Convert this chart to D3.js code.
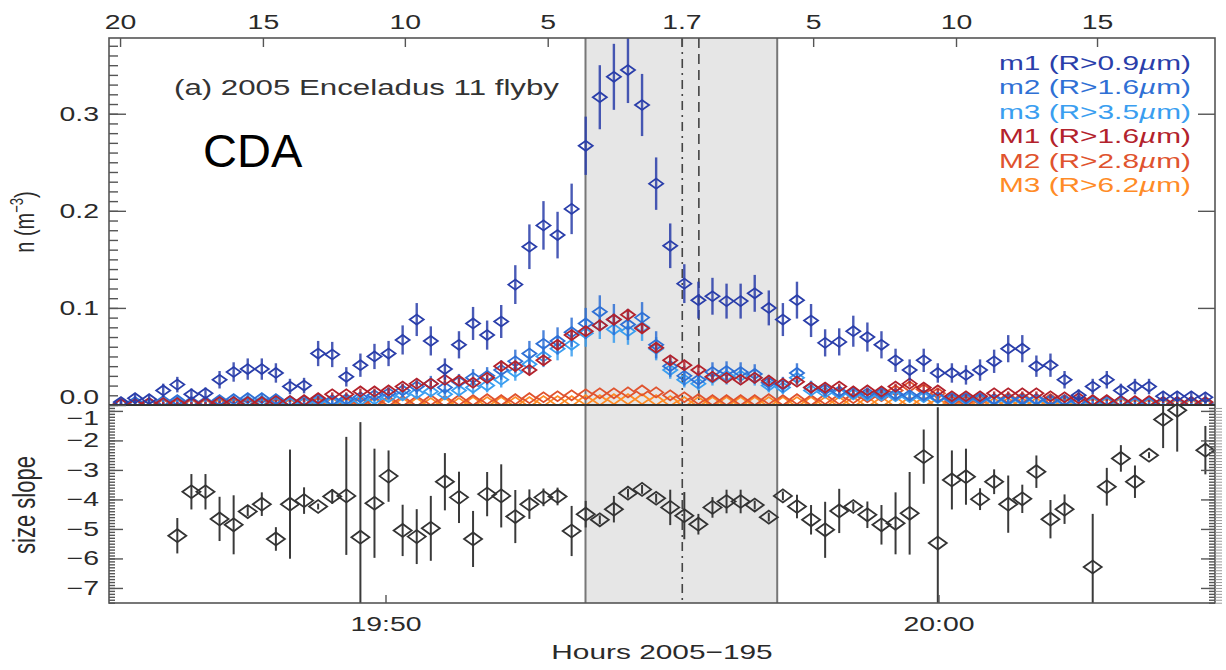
<!DOCTYPE html>
<html>
<head>
<meta charset="utf-8">
<script src="https://cdn.jsdelivr.net/npm/d3@7"></script>
<style>
  body { margin: 0; background: #fff; }
  svg { display: block; font-family: "Liberation Sans", Arial, sans-serif; }
</style>
</head>
<body>
<svg width="1226" height="670"></svg>
<script>
// CDA samples, one every ~15.3 s from 19:45:13
const sampleStart = "19:45:13";
const sampleStepSec = 15.28;

// number densities n (m^-3) per size channel
const m1 = [0.003,0.007,0.006,0.015,0.021,0.011,0.012,0.026,0.034,0.037,
            0.037,0.033,0.019,0.020,0.053,0.052,0.029,0.041,0.050,0.053,
            0.067,0.088,0.066,0.037,0.062,0.084,0.072,0.086,0.124,0.163,
            0.185,0.175,0.202,0.267,0.317,0.338,0.345,0.309,0.228,0.164,
            0.125,0.108,0.112,0.107,0.107,0.115,0.100,0.088,0.108,0.087,
            0.064,0.065,0.076,0.070,0.062,0.046,0.036,0.046,0.033,0.033,
            0.031,0.036,0.045,0.058,0.058,0.040,0.041,0.026,0.010,0.019,
            0.026,0.015,0.019,0.019,0.009,0.009,0.009,0.008];
const m1Err = [.003,.005,.005,.007,.008,.006,.006,.009,.010,.011,
               .011,.010,.008,.008,.013,.013,.010,.012,.013,.013,
               .015,.017,.015,.011,.014,.017,.015,.017,.020,.023,
               .025,.024,.026,.030,.033,.034,.034,.032,.027,.023,
               .020,.019,.019,.018,.018,.019,.018,.017,.019,.017,
               .014,.014,.016,.015,.014,.012,.011,.012,.010,.010,
               .010,.011,.012,.014,.014,.011,.012,.009,.006,.008,
               .009,.007,.008,.008,.005,.005,.005,.005];
const m2 = [.002,.003,.002,.004,.005,.003,.003,.005,.006,.007,
            .007,.006,.004,.004,.006,.005,.006,.008,.010,.012,
            .015,.019,.022,.018,.024,.028,.030,.036,.045,.053,
            .063,.066,.075,.084,.096,.088,.083,.090,.062,.040,
            .030,.026,.034,.035,.034,.032,.023,.021,.033,.018,
            .016,.014,.013,.012,.012,.011,.010,.010,.008,.007,
            .007,.007,.006,.006,.006,.006,.005,.005,.004,.004,
            .004,.004,.003,.003,.003,.003,.003,.002];
const m2Err = [.002,.003,.002,.003,.004,.003,.003,.004,.004,.005,
               .005,.004,.003,.003,.004,.004,.004,.005,.005,.006,
               .007,.008,.008,.007,.008,.009,.009,.010,.012,.013,
               .014,.014,.015,.016,.017,.016,.016,.016,.014,.011,
               .010,.009,.010,.010,.010,.010,.008,.008,.010,.007,
               .007,.006,.006,.006,.006,.006,.005,.005,.005,.005,
               .005,.005,.004,.004,.004,.004,.004,.004,.003,.003,
               .003,.003,.003,.003,.003,.003,.003,.002];
const m3 = [.001,.002,.001,.002,.003,.002,.002,.003,.003,.004,
            .004,.003,.002,.002,.004,.003,.004,.005,.006,.008,
            .010,.012,.014,.011,.015,.018,.020,.026,.034,.042,
            .050,.058,.062,.074,.082,.078,.076,.080,.058,.036,
            .026,.022,.028,.030,.030,.028,.020,.018,.028,.015,
            .013,.012,.011,.010,.010,.009,.008,.008,.007,.006,
            .006,.006,.005,.005,.005,.005,.004,.004,.003,.003,
            .003,.003,.002,.002,.002,.002,.002,.002];
const m3Err = [.002,.002,.002,.002,.003,.002,.002,.003,.003,.003,
               .003,.003,.002,.002,.003,.003,.003,.004,.004,.004,
               .005,.005,.006,.005,.006,.007,.007,.008,.009,.010,
               .011,.012,.012,.014,.014,.014,.014,.014,.012,.009,
               .008,.007,.008,.009,.009,.008,.007,.007,.008,.006,
               .006,.005,.005,.005,.005,.005,.004,.004,.004,.004,
               .004,.004,.004,.004,.004,.004,.003,.003,.003,.003,
               .003,.003,.002,.002,.002,.002,.002,.002];
const M1 = [.001,.001,.002,.002,.002,.002,.002,.003,.003,.003,
            .003,.004,.004,.005,.007,.011,.011,.014,.014,.015,
            .019,.022,.022,.026,.025,.023,.028,.040,.040,.036,
            .046,.062,.072,.076,.082,.088,.093,.079,.059,.046,
            .041,.036,.029,.028,.026,.028,.025,.022,.024,.018,
            .018,.019,.014,.015,.014,.019,.022,.018,.015,.009,
            .009,.009,.012,.012,.012,.012,.009,.008,.007,.005,
            .005,.004,.004,.004,.003,.003,.003,.003];
const M1Err = [.001,.001,.001,.001,.001,.001,.001,.001,.001,.001,
               .001,.001,.001,.002,.002,.002,.002,.003,.003,.003,
               .003,.003,.003,.003,.003,.003,.003,.004,.004,.004,
               .004,.005,.005,.005,.006,.006,.006,.005,.005,.004,
               .004,.004,.003,.003,.003,.003,.003,.003,.003,.003,
               .003,.003,.002,.002,.002,.003,.003,.003,.002,.002,
               .002,.002,.002,.002,.002,.002,.002,.002,.002,.001,
               .001,.001,.001,.001,.001,.001,.001,.001];
const M2 = [.001,.001,.001,.001,.001,.001,.001,.002,.002,.002,
            .002,.002,.002,.002,.003,.003,.003,.003,.003,.004,
            .004,.004,.005,.004,.005,.005,.006,.005,.006,.007,
            .008,.009,.010,.011,.012,.012,.013,.015,.013,.010,
            .008,.006,.005,.005,.005,.005,.006,.005,.006,.005,
            .006,.006,.007,.008,.009,.015,.019,.016,.012,.004,
            .004,.005,.006,.007,.007,.006,.006,.005,.004,.004,
            .004,.003,.003,.003,.003,.002,.002,.002];
const M3 = [.001,.001,.001,.001,.001,.001,.001,.001,.001,.001,
            .001,.001,.001,.002,.002,.002,.002,.002,.002,.002,
            .002,.002,.002,.002,.002,.003,.003,.003,.003,.003,
            .004,.004,.004,.005,.005,.006,.006,.006,.005,.004,
            .003,.003,.003,.003,.003,.003,.003,.003,.003,.003,
            .003,.003,.003,.003,.003,.003,.003,.003,.002,.002,
            .002,.002,.002,.002,.002,.002,.002,.002,.002,.002,
            .002,.002,.001,.001,.001,.001,.001,.001];

// size distribution slope (null = no fit)
const slope = [null,null,null,null,-5.23,-3.74,-3.74,-4.66,-4.86,-4.41,
               -4.16,-5.34,-4.16,-4.04,-4.24,-3.90,-3.88,-5.28,-4.13,-3.21,
               -5.05,-5.26,-4.98,-3.40,-3.93,-5.34,-3.82,-3.88,-4.58,-4.16,
               -3.93,-3.90,-5.07,-4.50,-4.69,-4.33,-3.79,-3.66,-3.96,-4.27,
               -4.55,-4.84,-4.27,-4.07,-4.07,-4.19,-4.60,-3.88,-4.24,-4.69,
               -5.03,-4.39,-4.24,-4.52,-4.86,-4.81,-4.47,-2.55,-5.48,-3.34,
               -3.23,-3.99,-3.40,-4.16,-3.98,-3.06,-4.67,-4.33,null,-6.29,
               -3.57,-2.61,-3.40,-2.50,-1.29,-0.98,null,-2.33];
const slopeErr = [0,0,0,0,.60,.60,.60,.75,1.0,.15,
                  .40,.40,1.85,.45,.10,.25,2.0,3.9,1.85,.87,
                  .87,.93,1.1,.97,.87,.95,.75,1.07,.90,.50,
                  .30,.30,.85,.45,.15,.45,.15,.15,.15,.60,
                  .80,.35,.35,.40,.40,.15,.15,.15,.40,.50,
                  .95,.75,.15,.45,.67,1.05,1.4,.92,4.6,1.0,
                  .95,.37,.42,.97,.48,.55,.65,.50,0,1.8,
                  .64,.45,.55,.10,.97,1.4,0,.82];

const seriesNames = ["m1", "m2", "m3", "M1", "M2", "M3"];
const seriesRadius = ["0.9", "1.6", "3.5", "1.6", "2.8", "6.2"];
const seriesColors = ["#2a3eaa", "#2f70d5", "#3a9ef0", "#b3222c", "#e0532e", "#ff8b26"];

// top axis: distance from Enceladus (R_E) at given times
const topTickLabels = ["20", "15", "10", "5", "1.7", "5", "10", "15"];
const topTickTimes = ["19:45:12", "19:47:47", "19:50:21", "19:52:56", "19:55:21", "19:57:44", "20:00:19", "20:02:52"];
const bottomTickTimes = ["19:50:00", "20:00:00"];
const shadeTimes = ["19:53:37", "19:57:05"];
const closestTime = "19:55:22";
const dashedTime = "19:55:40";

const parse = d3.timeParse("%H:%M:%S");
const sx = 1.42; // the figure is stretched horizontally

const svg = d3.select("svg");
const L = 109, R = 1215, T = 38, M = 405, B = 603;

const x = d3.scaleTime().domain([parse("19:45:00"), parse("20:05:00")]).range([L, R]);
const yTop = d3.scaleLinear().domain([0, 0.378]).range([M, T]);
const yBot = d3.scaleLinear().domain([-7.51, -0.80]).range([B, M]);

const t0 = parse(sampleStart);
const times = m1.map((_, i) => new Date(+t0 + i * sampleStepSec * 1000));

function stretch(sel) {
    sel.each(function() {
        const w = this.getComputedTextLength();
        d3.select(this).attr("textLength", w * sx).attr("lengthAdjust", "spacingAndGlyphs");
    });
}
function diamond(cx, cy, w, h) {
    return `M${cx - w},${cy}L${cx},${cy - h}L${cx + w},${cy}L${cx},${cy + h}Z`;
}

const defs = svg.append("defs");
defs.append("clipPath").attr("id", "clipTop")
    .append("rect").attr("x", L).attr("y", T).attr("width", R - L).attr("height", M - T);
defs.append("clipPath").attr("id", "clipBot")
    .append("rect").attr("x", L).attr("y", M).attr("width", R - L).attr("height", B - M);

// shaded interval and event lines
const xs0 = x(parse(shadeTimes[0])), xs1 = x(parse(shadeTimes[1]));
svg.append("rect").attr("x", xs0).attr("y", T).attr("width", xs1 - xs0).attr("height", B - T)
    .attr("fill", "#e6e6e6");
shadeTimes.forEach(t => {
    svg.append("line").attr("x1", x(parse(t))).attr("x2", x(parse(t)))
        .attr("y1", T).attr("y2", B).attr("stroke", "#777").attr("stroke-width", 2);
});
svg.append("line").attr("x1", x(parse(closestTime))).attr("x2", x(parse(closestTime)))
    .attr("y1", T).attr("y2", B).attr("stroke", "#444").attr("stroke-width", 1.6)
    .attr("stroke-dasharray", "9,5,2,5");
svg.append("line").attr("x1", x(parse(dashedTime))).attr("x2", x(parse(dashedTime)))
    .attr("y1", T).attr("y2", M).attr("stroke", "#444").attr("stroke-width", 1.6)
    .attr("stroke-dasharray", "10,6");

// upper panel series
const seriesValues = [m1, m2, m3, M1, M2, M3];
const seriesErrs = [m1Err, m2Err, m3Err, M1Err, null, null];
const series = seriesNames.map((name, k) => ({
    name, radius: seriesRadius[k], color: seriesColors[k],
    values: seriesValues[k], err: seriesErrs[k]
}));
const drawOrder = [5, 4, 2, 1, 3, 0];

const gTop = svg.append("g").attr("clip-path", "url(#clipTop)");
drawOrder.forEach(k => {
    const s = series[k];
    const g = gTop.append("g");
    if (s.err) {
        g.selectAll("line").data(s.values).enter().append("line")
            .attr("x1", (d, i) => x(times[i])).attr("x2", (d, i) => x(times[i]))
            .attr("y1", (d, i) => yTop(d + s.err[i])).attr("y2", (d, i) => yTop(d - s.err[i]))
            .attr("stroke", s.color).attr("stroke-width", 2.4).attr("opacity", 0.85);
    }
    g.selectAll("path").data(s.values).enter().append("path")
        .attr("d", (d, i) => diamond(x(times[i]), yTop(d), 7, 5))
        .attr("fill", "none").attr("stroke", s.color).attr("stroke-width", 1.8);
});

// lower panel: size slope
const slopePts = slope.map((v, i) => ({ t: times[i], v, e: slopeErr[i] })).filter(d => d.v !== null);
svg.append("g").attr("clip-path", "url(#clipBot)")
    .selectAll("line").data(slopePts).enter().append("line")
    .attr("x1", d => x(d.t)).attr("x2", d => x(d.t))
    .attr("y1", d => yBot(d.v + d.e)).attr("y2", d => yBot(d.v - d.e))
    .attr("stroke", "#3a3a3a").attr("stroke-width", 2);
svg.append("g").selectAll("path").data(slopePts).enter().append("path")
    .attr("d", d => diamond(x(d.t), yBot(d.v), 9, 6.5))
    .attr("fill", "none").attr("stroke", "#333").attr("stroke-width", 1.8);

// frame
svg.append("rect").attr("x", L).attr("y", T).attr("width", R - L).attr("height", B - T)
    .attr("fill", "none").attr("stroke", "#555").attr("stroke-width", 1.6);
svg.append("line").attr("x1", L).attr("x2", R).attr("y1", M).attr("y2", M)
    .attr("stroke", "#333").attr("stroke-width", 2);

// axes
function styleAxis(g, size) {
    g.select(".domain").remove();
    g.selectAll(".tick line").attr("stroke", "#555").attr("stroke-width", 1.4);
    g.selectAll("text").attr("font-size", size || 20).attr("fill", "#2a2a2a")
        .attr("font-family", "Liberation Sans, Arial, sans-serif");
}
const axes = svg.append("g");
// upper panel y
axes.append("g").attr("transform", `translate(${L},0)`)
    .call(d3.axisLeft(yTop).tickValues(d3.range(0, 0.375, 0.01)).tickSize(-9).tickFormat(""))
    .call(g => styleAxis(g));
axes.append("g").attr("transform", `translate(${L},0)`)
    .call(d3.axisLeft(yTop).tickValues([0, 0.1, 0.2, 0.3]).tickSize(-17).tickPadding(10)
        .tickFormat(d3.format(".1f")))
    .call(g => styleAxis(g))
    .call(g => g.selectAll(".tick").filter(d => d === 0).select("text").attr("y", -8));
axes.append("g").attr("transform", `translate(${R},0)`)
    .call(d3.axisRight(yTop).tickValues([0.1, 0.2, 0.3]).tickSize(-17).tickFormat(""))
    .call(g => styleAxis(g));
// lower panel y
const slopeMinor = d3.range(-7.5, -0.8, 0.1);
axes.append("g").attr("transform", `translate(${L},0)`)
    .call(d3.axisLeft(yBot).tickValues(slopeMinor).tickSize(-6).tickFormat(""))
    .call(g => styleAxis(g));
axes.append("g").attr("transform", `translate(${L},0)`)
    .call(d3.axisLeft(yBot).tickValues(d3.range(-7, 0, 1)).tickSize(-14).tickPadding(10)
        .tickFormat(d3.format("d")))
    .call(g => styleAxis(g))
    .call(g => g.selectAll(".tick").filter(d => d === -1).select("text").attr("y", 7));
axes.append("g").attr("transform", `translate(${R},0)`)
    .call(d3.axisRight(yBot).tickValues(slopeMinor).tickSize(-6).tickFormat(""))
    .call(g => styleAxis(g));
axes.append("g").attr("transform", `translate(${R},0)`)
    .call(d3.axisRight(yBot).tickValues(slopeMinor).tickSize(7).tickFormat(""))
    .call(g => styleAxis(g))
    .call(g => g.selectAll(".tick line").attr("stroke", "#999").attr("stroke-width", 1));
axes.append("g").attr("transform", `translate(${R},0)`)
    .call(d3.axisRight(yBot).tickValues(d3.range(-7, 0, 1)).tickSize(-14).tickFormat(""))
    .call(g => styleAxis(g));
// top: distance axis
axes.append("g").attr("transform", `translate(0,${T})`)
    .call(d3.axisTop(x).tickValues(topTickTimes.map(parse)).tickSize(-9).tickPadding(9)
        .tickFormat((d, i) => topTickLabels[i]))
    .call(g => styleAxis(g));
// bottom: time axis
axes.append("g").attr("transform", `translate(0,${B})`)
    .call(d3.axisBottom(x).tickValues(bottomTickTimes.map(parse)).tickSize(-8).tickPadding(14)
        .tickFormat(d3.timeFormat("%H:%M")))
    .call(g => styleAxis(g));
axes.selectAll("text").call(stretch);

// axis titles
const xt = svg.append("text").attr("x", 662).attr("y", 659).attr("text-anchor", "middle")
    .attr("font-size", 21).attr("fill", "#2a2a2a").text("Hours 2005\u2212195");
stretch(xt);

const yl1 = svg.append("text").attr("transform", `translate(34,222) scale(${sx},1) rotate(-90)`)
    .attr("text-anchor", "middle").attr("font-size", 20).attr("fill", "#2a2a2a");
yl1.append("tspan").text("n (m");
yl1.append("tspan").attr("font-size", 13).attr("dy", -8).text("\u22123");
yl1.append("tspan").attr("dy", 8).text(")");

svg.append("text").attr("transform", `translate(35,505) scale(${sx},1) rotate(-90)`)
    .attr("text-anchor", "middle").attr("font-size", 22).attr("fill", "#2a2a2a").text("size slope");

// panel label
const title = svg.append("text").attr("x", 174).attr("y", 95)
    .attr("font-size", 22).attr("fill", "#333").text("(a) 2005 Enceladus 11 flyby");
stretch(title);

svg.append("text").attr("x", 203).attr("y", 167)
    .attr("font-size", 47).attr("fill", "#000").text("CDA");

// legend
const legendY = d3.scalePoint().domain(seriesNames).range([70, 192]);
series.forEach(s => {
    const t = svg.append("text").attr("x", 1191).attr("y", legendY(s.name))
        .attr("text-anchor", "end").attr("font-size", 21).attr("fill", s.color);
    t.append("tspan").text(`${s.name} (R>${s.radius}`);
    t.append("tspan").attr("font-style", "italic").text("\u00b5");
    t.append("tspan").text("m)");
    stretch(t);
});
</script>
</body>
</html>
